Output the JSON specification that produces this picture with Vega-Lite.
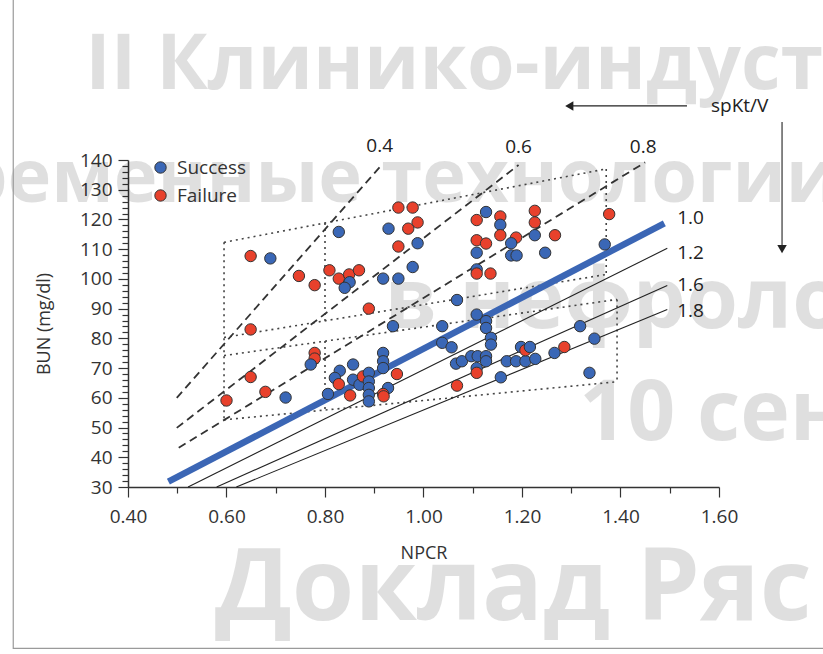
{
  "$schema": "https://vega.github.io/schema/vega-lite/v6.json",
  "width": 591,
  "height": 327,
  "autosize": "none",
  "padding": {"left": 128, "top": 160, "right": 104, "bottom": 167},
  "background": "white",
  "config": {
    "view": {"stroke": null},
    "font": "Open Sans",
    "axis": {
      "domainColor": "#333",
      "domainWidth": 1.5,
      "tickColor": "#333",
      "tickWidth": 1.2,
      "labelFont": "Open Sans",
      "labelFontSize": 19,
      "labelColor": "#333",
      "titleFont": "Open Sans",
      "titleFontSize": 18,
      "titleFontWeight": "normal",
      "titleColor": "#333",
      "grid": false,
      "zindex": 1
    },
    "legend": {
      "labelFont": "Open Sans",
      "labelFontSize": 19,
      "labelColor": "#333",
      "symbolStrokeColor": "#333",
      "symbolStrokeWidth": 1,
      "symbolSize": 130,
      "symbolType": "circle",
      "padding": 0,
      "rowPadding": 8,
      "labelOffset": 7
    }
  },
  "datasets": {
    "watermark": [
      {"NPCR": 0.313, "BUN": 163.9, "text": "II Клинико-индустр", "line": 1},
      {"NPCR": -0.223, "BUN": 125.8, "text": "Современные технологии", "line": 2},
      {"NPCR": 0.921, "BUN": 83.6, "text": "в нефрологии", "line": 3},
      {"NPCR": 1.316, "BUN": 45.9, "text": "10 сентября", "line": 4},
      {"NPCR": 0.576, "BUN": -14.9, "text": "Доклад Ряс", "line": 5}
    ],
    "lines": [
      {"id": "frame", "kind": "frame", "ord": 0, "NPCR": 0.167, "BUN": 195},
      {"id": "frame", "kind": "frame", "ord": 1, "NPCR": 0.167, "BUN": -24.3},
      {"id": "frame", "kind": "frame", "ord": 2, "NPCR": 1.82, "BUN": -24.3},
      {"id": "d04", "kind": "dash", "ord": 0, "NPCR": 0.499, "BUN": 60.0},
      {"id": "d04", "kind": "dash", "ord": 1, "NPCR": 0.911, "BUN": 137.6},
      {"id": "d06", "kind": "dash", "ord": 0, "NPCR": 0.499, "BUN": 49.9},
      {"id": "d06", "kind": "dash", "ord": 1, "NPCR": 1.193, "BUN": 138.3},
      {"id": "d08", "kind": "dash", "ord": 0, "NPCR": 0.503, "BUN": 43.2},
      {"id": "d08", "kind": "dash", "ord": 1, "NPCR": 1.45, "BUN": 139.2},
      {"id": "L1", "kind": "dot", "ord": 0, "NPCR": 0.595, "BUN": 112.3},
      {"id": "L1", "kind": "dot", "ord": 1, "NPCR": 1.371, "BUN": 137.0},
      {"id": "L2", "kind": "dot", "ord": 0, "NPCR": 0.595, "BUN": 80.3},
      {"id": "L2", "kind": "dot", "ord": 1, "NPCR": 1.371, "BUN": 101.5},
      {"id": "L3", "kind": "dot", "ord": 0, "NPCR": 0.595, "BUN": 74.2},
      {"id": "L3", "kind": "dot", "ord": 1, "NPCR": 1.393, "BUN": 93.1},
      {"id": "L4", "kind": "dot", "ord": 0, "NPCR": 0.595, "BUN": 52.6},
      {"id": "L4", "kind": "dot", "ord": 1, "NPCR": 1.393, "BUN": 65.4},
      {"id": "V1", "kind": "dot", "ord": 0, "NPCR": 0.595, "BUN": 112.3},
      {"id": "V1", "kind": "dot", "ord": 1, "NPCR": 0.595, "BUN": 52.6},
      {"id": "V2a", "kind": "dot", "ord": 0, "NPCR": 0.8, "BUN": 118.8},
      {"id": "V2a", "kind": "dot", "ord": 1, "NPCR": 0.8, "BUN": 85.9},
      {"id": "V2b", "kind": "dot", "ord": 0, "NPCR": 0.8, "BUN": 79.1},
      {"id": "V2b", "kind": "dot", "ord": 1, "NPCR": 0.8, "BUN": 55.9},
      {"id": "V3", "kind": "dot", "ord": 0, "NPCR": 1.371, "BUN": 137.0},
      {"id": "V3", "kind": "dot", "ord": 1, "NPCR": 1.371, "BUN": 101.5},
      {"id": "V4", "kind": "dot", "ord": 0, "NPCR": 1.393, "BUN": 93.1},
      {"id": "V4", "kind": "dot", "ord": 1, "NPCR": 1.393, "BUN": 65.4},
      {"id": "s12", "kind": "thin", "ord": 0, "NPCR": 0.522, "BUN": 30},
      {"id": "s12", "kind": "thin", "ord": 1, "NPCR": 1.495, "BUN": 110.3},
      {"id": "s16", "kind": "thin", "ord": 0, "NPCR": 0.58, "BUN": 30},
      {"id": "s16", "kind": "thin", "ord": 1, "NPCR": 1.495, "BUN": 97.8},
      {"id": "s18", "kind": "thin", "ord": 0, "NPCR": 0.62, "BUN": 30},
      {"id": "s18", "kind": "thin", "ord": 1, "NPCR": 1.495, "BUN": 89.7},
      {"id": "s10", "kind": "thick", "ord": 0, "NPCR": 0.482, "BUN": 31.8},
      {"id": "s10", "kind": "thick", "ord": 1, "NPCR": 1.489, "BUN": 118.7},
      {"id": "ah", "kind": "arrow", "ord": 0, "NPCR": 1.296, "BUN": 158.2},
      {"id": "ah", "kind": "arrow", "ord": 1, "NPCR": 1.535, "BUN": 158.2},
      {"id": "av", "kind": "arrow", "ord": 0, "NPCR": 1.728, "BUN": 152.8},
      {"id": "av", "kind": "arrow", "ord": 1, "NPCR": 1.728, "BUN": 110.0}
    ],
    "heads": [
      {"dir": "left", "NPCR": 1.296, "BUN": 158.2},
      {"dir": "down", "NPCR": 1.728, "BUN": 110.0}
    ],
    "labels": [
      {"text": "0.4", "pos": "top", "NPCR": 0.911, "BUN": 144.6},
      {"text": "0.6", "pos": "top", "NPCR": 1.193, "BUN": 144.3},
      {"text": "0.8", "pos": "top", "NPCR": 1.446, "BUN": 144.4},
      {"text": "spKt/V", "pos": "top", "NPCR": 1.642, "BUN": 158.3},
      {"text": "1.0", "pos": "right", "NPCR": 1.515, "BUN": 120.4},
      {"text": "1.2", "pos": "right", "NPCR": 1.515, "BUN": 108.8},
      {"text": "1.6", "pos": "right", "NPCR": 1.515, "BUN": 97.8},
      {"text": "1.8", "pos": "right", "NPCR": 1.515, "BUN": 89.1}
    ],
    "points": [
      {"Outcome": "Failure", "NPCR": 0.649, "BUN": 107.7},
      {"Outcome": "Success", "NPCR": 0.689, "BUN": 106.9},
      {"Outcome": "Failure", "NPCR": 0.747, "BUN": 101.0},
      {"Outcome": "Failure", "NPCR": 0.779, "BUN": 97.9},
      {"Outcome": "Failure", "NPCR": 0.809, "BUN": 102.9},
      {"Outcome": "Failure", "NPCR": 0.828, "BUN": 100.1},
      {"Outcome": "Failure", "NPCR": 0.849, "BUN": 101.5},
      {"Outcome": "Failure", "NPCR": 0.869, "BUN": 102.9},
      {"Outcome": "Success", "NPCR": 0.85, "BUN": 98.9},
      {"Outcome": "Success", "NPCR": 0.84, "BUN": 97.0},
      {"Outcome": "Success", "NPCR": 0.828, "BUN": 115.8},
      {"Outcome": "Failure", "NPCR": 0.949, "BUN": 124.0},
      {"Outcome": "Failure", "NPCR": 0.978, "BUN": 124.0},
      {"Outcome": "Failure", "NPCR": 0.988, "BUN": 119.0},
      {"Outcome": "Failure", "NPCR": 0.969, "BUN": 116.9},
      {"Outcome": "Success", "NPCR": 0.929, "BUN": 116.9},
      {"Outcome": "Failure", "NPCR": 0.949, "BUN": 110.9},
      {"Outcome": "Success", "NPCR": 0.988, "BUN": 112.0},
      {"Outcome": "Success", "NPCR": 0.978, "BUN": 104.0},
      {"Outcome": "Success", "NPCR": 0.918, "BUN": 100.1},
      {"Outcome": "Success", "NPCR": 0.949, "BUN": 100.1},
      {"Outcome": "Failure", "NPCR": 0.889, "BUN": 90.0},
      {"Outcome": "Success", "NPCR": 0.938, "BUN": 84.1},
      {"Outcome": "Failure", "NPCR": 0.649, "BUN": 83.0},
      {"Outcome": "Failure", "NPCR": 0.779, "BUN": 75.1},
      {"Outcome": "Failure", "NPCR": 0.779, "BUN": 73.2},
      {"Outcome": "Success", "NPCR": 0.771, "BUN": 71.2},
      {"Outcome": "Failure", "NPCR": 0.649, "BUN": 67.0},
      {"Outcome": "Failure", "NPCR": 0.679, "BUN": 62.0},
      {"Outcome": "Success", "NPCR": 0.72, "BUN": 60.1},
      {"Outcome": "Failure", "NPCR": 0.6, "BUN": 59.1},
      {"Outcome": "Success", "NPCR": 0.918, "BUN": 75.1},
      {"Outcome": "Success", "NPCR": 0.918, "BUN": 72.3},
      {"Outcome": "Success", "NPCR": 0.857, "BUN": 71.2},
      {"Outcome": "Success", "NPCR": 0.83, "BUN": 69.1},
      {"Outcome": "Success", "NPCR": 0.918, "BUN": 70.0},
      {"Outcome": "Failure", "NPCR": 0.946, "BUN": 68.0},
      {"Outcome": "Success", "NPCR": 0.82, "BUN": 66.7},
      {"Outcome": "Failure", "NPCR": 0.828, "BUN": 64.6},
      {"Outcome": "Success", "NPCR": 0.857, "BUN": 66.1},
      {"Outcome": "Success", "NPCR": 0.87, "BUN": 64.4},
      {"Outcome": "Failure", "NPCR": 0.877, "BUN": 67.2},
      {"Outcome": "Success", "NPCR": 0.889, "BUN": 68.4},
      {"Outcome": "Success", "NPCR": 0.889, "BUN": 65.5},
      {"Outcome": "Success", "NPCR": 0.889, "BUN": 63.3},
      {"Outcome": "Success", "NPCR": 0.889, "BUN": 61.0},
      {"Outcome": "Success", "NPCR": 0.889, "BUN": 58.8},
      {"Outcome": "Success", "NPCR": 0.806, "BUN": 61.3},
      {"Outcome": "Failure", "NPCR": 0.851, "BUN": 60.8},
      {"Outcome": "Success", "NPCR": 0.928, "BUN": 63.3},
      {"Outcome": "Failure", "NPCR": 0.918, "BUN": 61.3},
      {"Outcome": "Failure", "NPCR": 0.919, "BUN": 60.5},
      {"Outcome": "Success", "NPCR": 1.127, "BUN": 122.5},
      {"Outcome": "Failure", "NPCR": 1.108, "BUN": 119.8},
      {"Outcome": "Failure", "NPCR": 1.156, "BUN": 121.0},
      {"Outcome": "Success", "NPCR": 1.156, "BUN": 118.2},
      {"Outcome": "Failure", "NPCR": 1.156, "BUN": 114.7},
      {"Outcome": "Failure", "NPCR": 1.108, "BUN": 113.0},
      {"Outcome": "Failure", "NPCR": 1.127, "BUN": 111.9},
      {"Outcome": "Success", "NPCR": 1.108, "BUN": 108.8},
      {"Outcome": "Failure", "NPCR": 1.188, "BUN": 113.9},
      {"Outcome": "Success", "NPCR": 1.178, "BUN": 112.0},
      {"Outcome": "Success", "NPCR": 1.178, "BUN": 107.9},
      {"Outcome": "Success", "NPCR": 1.189, "BUN": 107.9},
      {"Outcome": "Failure", "NPCR": 1.226, "BUN": 122.9},
      {"Outcome": "Failure", "NPCR": 1.226, "BUN": 119.0},
      {"Outcome": "Success", "NPCR": 1.226, "BUN": 114.7},
      {"Outcome": "Failure", "NPCR": 1.267, "BUN": 114.7},
      {"Outcome": "Success", "NPCR": 1.247, "BUN": 108.8},
      {"Outcome": "Failure", "NPCR": 1.377, "BUN": 121.8},
      {"Outcome": "Success", "NPCR": 1.368, "BUN": 111.6},
      {"Outcome": "Success", "NPCR": 1.108, "BUN": 103.2},
      {"Outcome": "Failure", "NPCR": 1.108, "BUN": 101.8},
      {"Outcome": "Failure", "NPCR": 1.136, "BUN": 101.8},
      {"Outcome": "Success", "NPCR": 1.068, "BUN": 92.9},
      {"Outcome": "Success", "NPCR": 1.108, "BUN": 88.0},
      {"Outcome": "Success", "NPCR": 1.127, "BUN": 85.8},
      {"Outcome": "Success", "NPCR": 1.127, "BUN": 83.5},
      {"Outcome": "Success", "NPCR": 1.137, "BUN": 80.2},
      {"Outcome": "Success", "NPCR": 1.137, "BUN": 77.9},
      {"Outcome": "Success", "NPCR": 1.038, "BUN": 84.1},
      {"Outcome": "Success", "NPCR": 1.038, "BUN": 78.5},
      {"Outcome": "Success", "NPCR": 1.057, "BUN": 77.0},
      {"Outcome": "Success", "NPCR": 1.066, "BUN": 71.5},
      {"Outcome": "Success", "NPCR": 1.078, "BUN": 72.3},
      {"Outcome": "Success", "NPCR": 1.097, "BUN": 74.0},
      {"Outcome": "Success", "NPCR": 1.11, "BUN": 74.0},
      {"Outcome": "Success", "NPCR": 1.127, "BUN": 74.0},
      {"Outcome": "Success", "NPCR": 1.127, "BUN": 72.3},
      {"Outcome": "Success", "NPCR": 1.108, "BUN": 70.0},
      {"Outcome": "Failure", "NPCR": 1.108, "BUN": 68.4},
      {"Outcome": "Failure", "NPCR": 1.068, "BUN": 64.1},
      {"Outcome": "Success", "NPCR": 1.157, "BUN": 66.9},
      {"Outcome": "Success", "NPCR": 1.169, "BUN": 72.3},
      {"Outcome": "Success", "NPCR": 1.188, "BUN": 72.3},
      {"Outcome": "Success", "NPCR": 1.207, "BUN": 72.3},
      {"Outcome": "Success", "NPCR": 1.227, "BUN": 73.1},
      {"Outcome": "Success", "NPCR": 1.198, "BUN": 77.1},
      {"Outcome": "Failure", "NPCR": 1.207, "BUN": 76.0},
      {"Outcome": "Success", "NPCR": 1.216, "BUN": 77.1},
      {"Outcome": "Success", "NPCR": 1.266, "BUN": 75.1},
      {"Outcome": "Failure", "NPCR": 1.286, "BUN": 77.1},
      {"Outcome": "Success", "NPCR": 1.318, "BUN": 84.1},
      {"Outcome": "Success", "NPCR": 1.347, "BUN": 79.9},
      {"Outcome": "Success", "NPCR": 1.337, "BUN": 68.4}
    ]
  },
  "encoding": {
    "x": {
      "field": "NPCR",
      "type": "quantitative",
      "scale": {"domain": [0.4, 1.6], "nice": false, "zero": false},
      "axis": {
        "title": "NPCR",
        "values": [0.4, 0.5, 0.6, 0.7, 0.8, 0.9, 1.0, 1.1, 1.2, 1.3, 1.4, 1.5, 1.6],
        "labelExpr": "round(datum.value*10) % 2 == 0 ? format(datum.value, '.2f') : ''",
        "tickSize": {"condition": {"test": "round(datum.value*10) % 2 == 0", "value": 10}, "value": 6},
        "labelPadding": 10,
        "titlePadding": 18,
        "labelFlush": false,
        "labelOverlap": false
      }
    },
    "y": {
      "field": "BUN",
      "type": "quantitative",
      "scale": {"domain": [30, 140], "nice": false, "zero": false},
      "axis": {
        "title": "BUN (mg/dl)",
        "values": [30, 32, 34, 36, 38, 40, 42, 44, 46, 48, 50, 52, 54, 56, 58, 60, 62, 64, 66, 68, 70, 72, 74, 76, 78, 80, 82, 84, 86, 88, 90, 92, 94, 96, 98, 100, 102, 104, 106, 108, 110, 112, 114, 116, 118, 120, 122, 124, 126, 128, 130, 132, 134, 136, 138, 140],
        "labelExpr": "datum.value % 10 == 0 ? datum.label : ''",
        "tickSize": {"condition": {"test": "datum.value % 10 == 0", "value": 10}, "value": 6},
        "labelPadding": 6,
        "titlePadding": 26,
        "labelFlush": false,
        "labelOverlap": false
      }
    }
  },
  "layer": [
    {
      "data": {"name": "watermark"},
      "transform": [{"filter": "datum.line == 1"}],
      "mark": {"type": "text", "font": "Open Sans", "fontWeight": "bold", "fontSize": 77, "color": "#000", "opacity": 0.12, "align": "left", "baseline": "alphabetic"},
      "encoding": {"text": {"field": "text"}}
    },
    {
      "data": {"name": "watermark"},
      "transform": [{"filter": "datum.line == 2"}],
      "mark": {"type": "text", "font": "Open Sans", "fontWeight": "bold", "fontSize": 74, "color": "#000", "opacity": 0.12, "align": "left", "baseline": "alphabetic"},
      "encoding": {"text": {"field": "text"}}
    },
    {
      "data": {"name": "watermark"},
      "transform": [{"filter": "datum.line == 3 || datum.line == 4"}],
      "mark": {"type": "text", "font": "Open Sans", "fontWeight": "bold", "fontSize": 84, "color": "#000", "opacity": 0.12, "align": "left", "baseline": "alphabetic"},
      "encoding": {"text": {"field": "text"}}
    },
    {
      "data": {"name": "watermark"},
      "transform": [{"filter": "datum.line == 5"}],
      "mark": {"type": "text", "font": "Open Sans", "fontWeight": "bold", "fontSize": 101, "color": "#000", "opacity": 0.12, "align": "left", "baseline": "alphabetic"},
      "encoding": {"text": {"field": "text"}}
    },
    {
      "data": {"name": "lines"},
      "transform": [{"filter": "datum.kind == 'frame'"}],
      "mark": {"type": "line", "stroke": "#9a9a9a", "strokeWidth": 1.2},
      "encoding": {"detail": {"field": "id"}, "order": {"field": "ord"}}
    },
    {
      "data": {"name": "lines"},
      "transform": [{"filter": "datum.kind == 'dot'"}],
      "mark": {"type": "line", "stroke": "#444", "strokeWidth": 1.6, "strokeDash": [2, 4]},
      "encoding": {"detail": {"field": "id"}, "order": {"field": "ord"}}
    },
    {
      "data": {"name": "lines"},
      "transform": [{"filter": "datum.kind == 'dash'"}],
      "mark": {"type": "line", "stroke": "#333", "strokeWidth": 1.8, "strokeDash": [8, 5]},
      "encoding": {"detail": {"field": "id"}, "order": {"field": "ord"}}
    },
    {
      "data": {"name": "lines"},
      "transform": [{"filter": "datum.kind == 'thin' || datum.kind == 'arrow'"}],
      "mark": {"type": "line", "stroke": "#222", "strokeWidth": 1.1},
      "encoding": {"detail": {"field": "id"}, "order": {"field": "ord"}}
    },
    {
      "data": {"name": "lines"},
      "transform": [{"filter": "datum.kind == 'thick'"}],
      "mark": {"type": "line", "stroke": "#3b66b5", "strokeWidth": 6.5},
      "encoding": {"detail": {"field": "id"}, "order": {"field": "ord"}}
    },
    {
      "data": {"name": "heads"},
      "mark": {"type": "point", "filled": true, "color": "#222", "size": 90, "opacity": 1},
      "encoding": {
        "shape": {"field": "dir", "type": "nominal", "scale": {"domain": ["left", "down"], "range": ["triangle-left", "triangle-down"]}, "legend": null}
      }
    },
    {
      "data": {"name": "labels"},
      "transform": [{"filter": "datum.pos == 'top'"}],
      "mark": {"type": "text", "font": "Open Sans", "fontSize": 19, "color": "#222", "align": "center", "baseline": "middle"},
      "encoding": {"text": {"field": "text"}}
    },
    {
      "data": {"name": "labels"},
      "transform": [{"filter": "datum.pos == 'right'"}],
      "mark": {"type": "text", "font": "Open Sans", "fontSize": 19, "color": "#222", "align": "left", "baseline": "middle"},
      "encoding": {"text": {"field": "text"}}
    },
    {
      "data": {"name": "points"},
      "mark": {"type": "point", "filled": true, "size": 130, "stroke": "#333", "strokeWidth": 1, "opacity": 1},
      "encoding": {
        "fill": {
          "field": "Outcome",
          "type": "nominal",
          "scale": {"domain": ["Success", "Failure"], "range": ["#3a67b6", "#e8412c"]},
          "legend": {"title": null, "orient": "none", "legendX": 23, "legendY": -2}
        }
      }
    }
  ]
}
